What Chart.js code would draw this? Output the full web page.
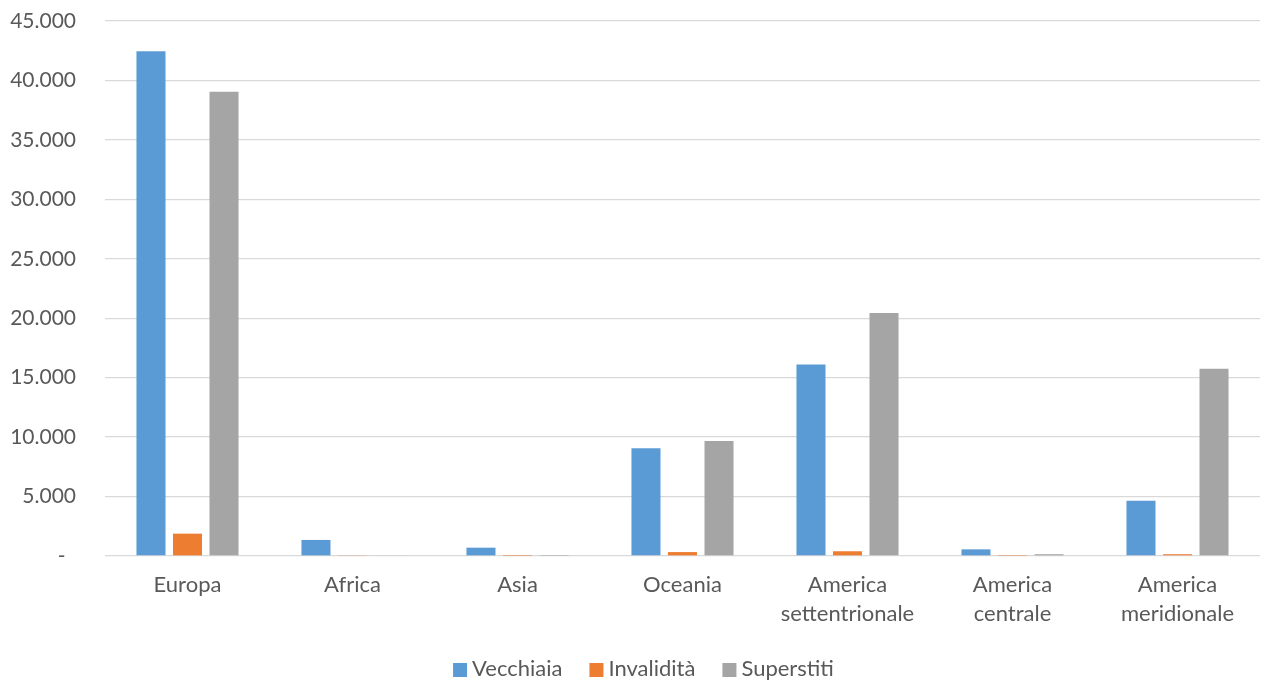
<!DOCTYPE html>
<html lang="it">
<head>
<meta charset="utf-8">
<title>Pensioni per area geografica</title>
<script src="https://cdn.jsdelivr.net/npm/chart.js@4.4.1/dist/chart.umd.min.js"></script>
<style>
  html, body { margin: 0; padding: 0; background: #ffffff; }
  #wrap { position: relative; width: 1263px; height: 684px; }
</style>
</head>
<body>
<div id="wrap"><canvas id="chart" width="1263" height="684"></canvas></div>
<script>
// Aree geografiche (etichette su due righe dove serve)
const categories = [
  'Europa',
  'Africa',
  'Asia',
  'Oceania',
  ['America', 'settentrionale'],
  ['America', 'centrale'],
  ['America', 'meridionale']
];

// Numero di pensioni per tipo
const vecchiaia  = [42450, 1350, 700, 9070, 16100, 560, 4650];
const invalidita = [1880, 40, 10, 330, 400, 20, 150];
const superstiti = [39050, 50, 20, 9680, 20430, 150, 15750];

// Asse dei valori
const yMin = 0;
const yMax = 45000;
const yStep = 5000;

const seriesNames = ['Vecchiaia', 'Invalidità', 'Superstiti'];
const seriesColors = ['#5B9BD5', '#ED7D31', '#A5A5A5'];

const FONT = 'Lato, "Open Sans", "DejaVu Sans", sans-serif';
const TEXT = '#595959';

// Formato contabile: separatore delle migliaia "." e zero come trattino
function formatValue(v) {
  if (v === 0) return '-\u2002';
  return String(Math.round(v)).replace(/\B(?=(\d{3})+(?!\d))/g, '.');
}

// Legenda orizzontale in basso: quadratino, testo vicino, voci distanziate
const bottomLegend = {
  id: 'bottomLegend',
  afterDraw(chart) {
    const ctx = chart.ctx;
    const box = 14, gapText = 5, gapItem = 27;
    const y = 669;
    ctx.save();
    ctx.font = '22px ' + FONT;
    ctx.textBaseline = 'middle';
    ctx.textAlign = 'left';
    const items = chart.data.datasets.map(ds => ({
      text: ds.label,
      color: ds.backgroundColor,
      w: box + gapText + ctx.measureText(ds.label).width
    }));
    const total = items.reduce((s, it) => s + it.w, 0) + gapItem * (items.length - 1);
    let x = chart.width / 2 + 12 - total / 2;
    items.forEach(it => {
      ctx.fillStyle = it.color;
      ctx.fillRect(x, y - box / 2 + 1, box, box);
      ctx.fillStyle = TEXT;
      ctx.fillText(it.text, x + box + gapText, y);
      x += it.w + gapItem;
    });
    ctx.restore();
  }
};

const data = {
  labels: categories,
  datasets: [vecchiaia, invalidita, superstiti].map((values, i) => ({
    label: seriesNames[i],
    data: values,
    backgroundColor: seriesColors[i],
    borderWidth: 0,
    categoryPercentage: 0.664,
    barPercentage: 0.795
  }))
};

new Chart(document.getElementById('chart'), {
  type: 'bar',
  data: data,
  plugins: [bottomLegend],
  options: {
    responsive: false,
    animation: false,
    devicePixelRatio: 1,
    layout: { padding: { top: 21, right: 3, bottom: 53, left: 0 } },
    plugins: {
      tooltip: { enabled: false },
      legend: { display: false }
    },
    scales: {
      x: {
        afterFit(scale) { scale.height = 75; },
        grid: { display: false, drawTicks: false },
        border: { display: false },
        ticks: {
          color: TEXT,
          font: { family: FONT, size: 22, lineHeight: 1.3 },
          padding: 15,
          maxRotation: 0,
          autoSkip: false
        }
      },
      y: {
        min: yMin,
        max: yMax,
        afterFit(scale) { scale.width = 105; },
        grid: {
          color: '#D9D9D9',
          lineWidth: 1.3,
          drawTicks: true,
          tickLength: 29,
          tickColor: 'rgba(0,0,0,0)'
        },
        border: { display: false },
        ticks: {
          stepSize: yStep,
          color: TEXT,
          font: { family: FONT, size: 21 },
          padding: 0,
          callback: (v) => formatValue(v)
        }
      }
    }
  }
});
</script>
</body>
</html>
